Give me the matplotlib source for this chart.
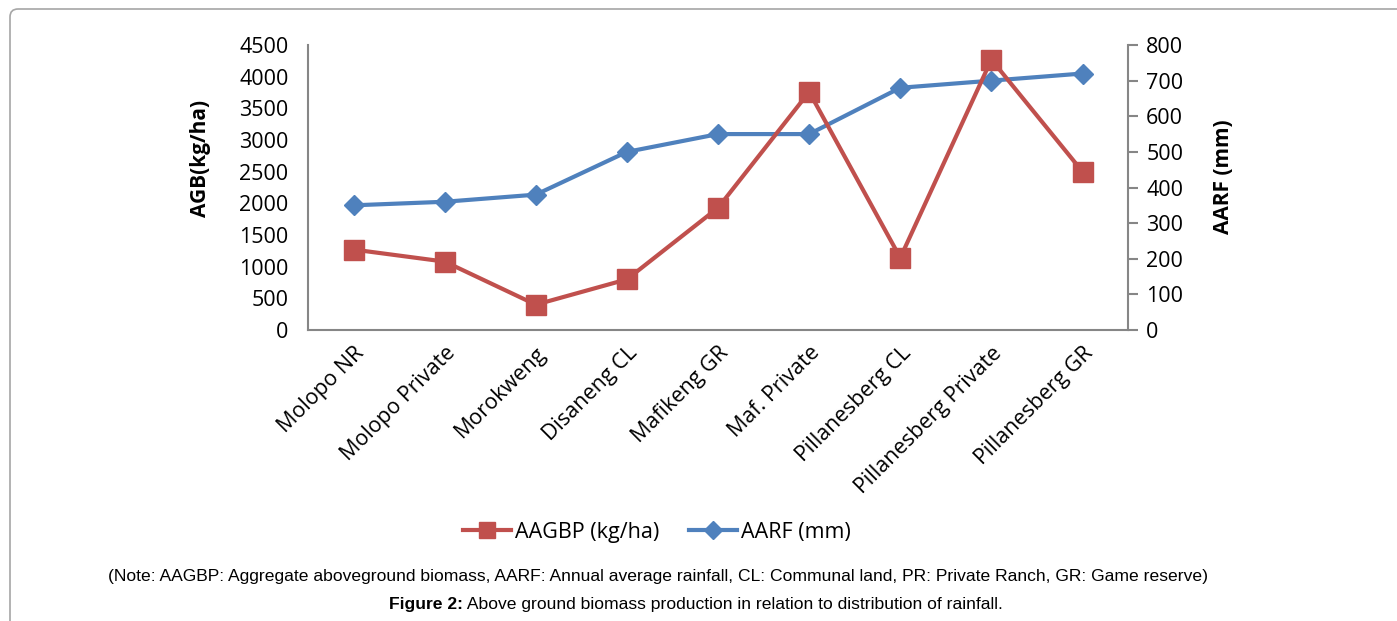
import matplotlib.pyplot as plt
from matplotlib.lines import Line2D
from matplotlib.patches import FancyBboxPatch
from matplotlib.transforms import IdentityTransform

# Sites and the two measured series
sites = ["Molopo NR", "Molopo Private", "Morokweng", "Disaneng CL", "Mafikeng GR",
         "Maf. Private", "Pillanesberg CL", "Pillanesberg Private", "Pillanesberg GR"]
aagbp = [1270, 1080, 400, 800, 1930, 3760, 1140, 4270, 2500]   # kg/ha
aarf = [350, 360, 380, 500, 550, 550, 680, 700, 720]           # mm

red = "#C0504D"
blue = "#4F81BD"
axis_gray = "#868686"
font = "Open Sans"

fig = plt.figure(figsize=(13.97, 6.21), dpi=100)
ax = fig.add_axes([0.2205, 0.4686, 0.587, 0.4589])
ax2 = ax.twinx()

x = range(len(sites))
ax2.plot(x, aarf, color=blue, lw=3, marker="D", ms=10, zorder=3)
ax.plot(x, aagbp, color=red, lw=3, marker="s", ms=14, zorder=3)
ax.set_zorder(ax2.get_zorder() + 1)
ax.patch.set_visible(False)

ax.set_xlim(-0.5, len(sites) - 0.5)
ax.set_ylim(0, 4500)
ax.set_yticks(range(0, 4501, 500))
ax2.set_ylim(0, 800)
ax2.set_yticks(range(0, 801, 100))

for a in (ax, ax2):
    for s in a.spines.values():
        s.set_visible(False)
ax.spines["left"].set_visible(True)
ax.spines["bottom"].set_visible(True)
ax2.spines["right"].set_visible(True)
for s in (ax.spines["left"], ax.spines["bottom"], ax2.spines["right"]):
    s.set_color(axis_gray)
    s.set_linewidth(1.5)

ax.tick_params(axis="y", length=0, pad=14, labelsize=15.5)
ax2.tick_params(axis="y", length=7, width=1.5, color=axis_gray, pad=6, labelsize=15.5)
ax.tick_params(axis="x", length=0, pad=9)
for lab in ax.get_yticklabels() + ax2.get_yticklabels():
    lab.set_fontfamily(font)

ax.set_xticks(list(x))
ax.set_xticklabels(sites, rotation=45, ha="right", va="top",
                   rotation_mode="anchor", fontsize=15.5, family=font)

ax.set_ylabel("AGB(kg/ha)", fontsize=15, fontweight="bold", family=font)
ax.yaxis.set_label_coords(-0.118, 0.603)
ax2.set_ylabel("AARF (mm)", fontsize=15, fontweight="bold", family=font)
ax2.yaxis.set_label_coords(1.104, 0.537)

# legend below the chart
handles = [Line2D([], [], color=red, lw=3, marker="s", ms=12),
           Line2D([], [], color=blue, lw=3, marker="D", ms=9)]
fig.legend(handles, ["AAGBP (kg/ha)", "AARF (mm)"], loc="center",
           bbox_to_anchor=(0.470, 0.1433), ncol=2, frameon=False,
           prop={"family": font, "size": 15.5}, handlelength=2.25,
           handletextpad=0.15, columnspacing=1.4)

# light frame round the chart area (pixel units)
frame = FancyBboxPatch((10, -60), 2000, 621 - 9 + 60, transform=IdentityTransform(),
                       boxstyle="round,pad=0,rounding_size=8", fc="none",
                       ec="#A6A6A6", lw=1.2, clip_on=False)
fig.patches.append(frame)

# notes and caption
fig.text(658 / 1397, 1 - 577 / 621, "(Note: AAGBP: Aggregate aboveground biomass, AARF: Annual average "
         "rainfall, CL: Communal land, PR: Private Ranch, GR: Game reserve)",
         ha="center", va="center", fontsize=12.6, family="Liberation Sans")
t = fig.text(389 / 1397, 1 - 604 / 621, "Figure 2:", ha="left", va="center",
             fontsize=12.6, fontweight="bold", family="Liberation Sans")
ax.annotate(" Above ground biomass production in relation to distribution of rainfall.",
            xy=(1, 0.5), xycoords=t, va="center", ha="left",
            fontsize=12.6, family="Liberation Sans")

fig.savefig("out.png", dpi=100)
